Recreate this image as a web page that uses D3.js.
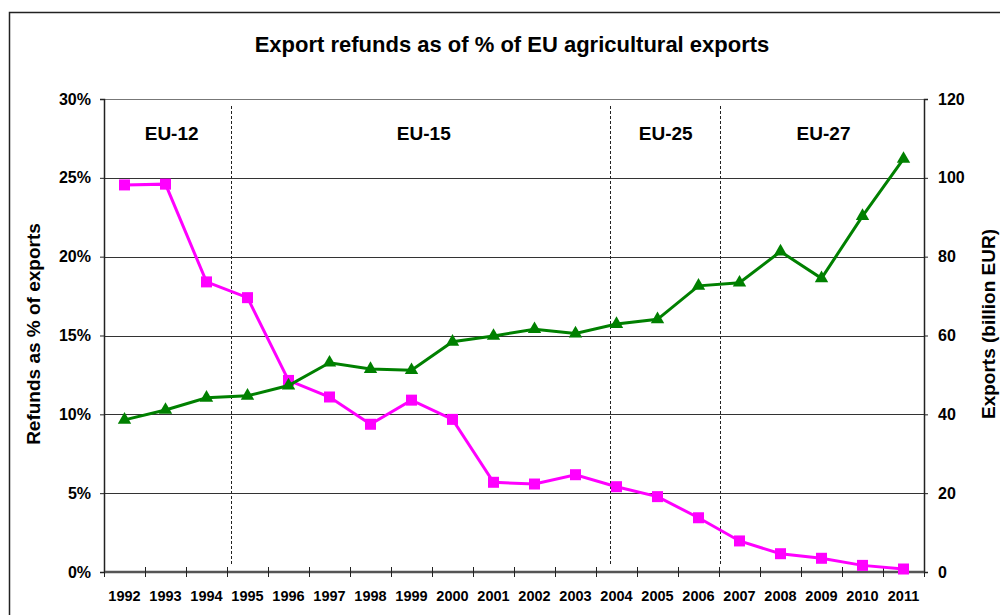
<!DOCTYPE html>
<html>
<head>
<meta charset="utf-8">
<script src="https://cdn.jsdelivr.net/npm/d3@7"></script>
<style>
  body { margin: 0; background: #fff; }
  svg text { font-family: "Liberation Sans", Arial, sans-serif; font-weight: bold; fill: #000; }
</style>
</head>
<body>
<div id="chart"></div>
<script>
const WIDTH = 1000;
const HEIGHT = 615;
const MARGINS = {left: 104, right: 76, top: 99, bottom: 43};

// data
const YEARS = ["1992", "1993", "1994", "1995", "1996", "1997", "1998", "1999", "2000", "2001",
               "2002", "2003", "2004", "2005", "2006", "2007", "2008", "2009", "2010", "2011"];
const REFUNDS_PCT = [24.55, 24.6, 18.4, 17.4, 12.15, 11.1, 9.37, 10.9, 9.68, 5.69,
                     5.58, 6.17, 5.41, 4.78, 3.44, 1.97, 1.16, 0.87, 0.42, 0.19];
const EXPORTS_BN = [38.6, 41.1, 44.2, 44.7, 47.3, 53.1, 51.5, 51.2, 58.4, 59.9,
                    61.6, 60.5, 62.9, 64.1, 72.6, 73.4, 81.3, 74.5, 90.3, 104.8];
const LEFT_TICKS = [0, 5, 10, 15, 20, 25, 30];
const RIGHT_TICKS = [0, 20, 40, 60, 80, 100, 120];
// enlargement periods: label, label centre and dashed dividers (in category units)
const PERIOD_LABELS = ["EU-12", "EU-15", "EU-25", "EU-27"];
const PERIOD_LABEL_POS = [1.65, 7.8, 13.7, 17.55];
const DIVIDERS = [3.09, 12.34, 15.02];

const VIS_WIDTH = WIDTH - MARGINS.left - MARGINS.right;
const BOTTOM = 572;

const svg = d3.select("#chart").append("svg")
  .attr("width", WIDTH)
  .attr("height", HEIGHT);

// outer frame (right and bottom edges fall outside the picture)
svg.append("rect")
  .attr("x", 9.5).attr("y", 12.5)
  .attr("width", 1000).attr("height", 640)
  .attr("fill", "none").attr("stroke", "#222").attr("stroke-width", 1.5);

const X_SCALE = d3.scaleBand().domain(YEARS).range([MARGINS.left, MARGINS.left + VIS_WIDTH]);
const X_LIN = d3.scaleLinear().domain([0, YEARS.length]).range([MARGINS.left, MARGINS.left + VIS_WIDTH]);
const Y_LEFT = d3.scaleLinear().domain([0, 30]).range([BOTTOM, MARGINS.top]);
const Y_RIGHT = d3.scaleLinear().domain([0, 120]).range([BOTTOM, MARGINS.top]);

// gridlines
svg.append("g").selectAll("line")
  .data(LEFT_TICKS.slice(1))
  .enter().append("line")
    .attr("x1", MARGINS.left).attr("x2", MARGINS.left + VIS_WIDTH)
    .attr("y1", d => Math.round(Y_LEFT(d)) + 0.5).attr("y2", d => Math.round(Y_LEFT(d)) + 0.5)
    .attr("stroke", d => d === 30 ? "#777" : "#333").attr("stroke-width", 1);

// dashed dividers
svg.append("g").selectAll("line")
  .data(DIVIDERS)
  .enter().append("line")
    .attr("x1", d => Math.round(X_LIN(d)) + 0.5).attr("x2", d => Math.round(X_LIN(d)) + 0.5)
    .attr("y1", 106).attr("y2", 564)
    .attr("stroke", "#222").attr("stroke-width", 1)
    .attr("stroke-dasharray", "3,2");

// period labels
svg.append("g").selectAll("text")
  .data(PERIOD_LABELS)
  .enter().append("text")
    .attr("x", (d, i) => X_LIN(PERIOD_LABEL_POS[i]))
    .attr("y", 140)
    .attr("text-anchor", "middle")
    .style("font-size", "19px")
    .text(d => d);

// left axis
const leftAxis = svg.append("g")
  .attr("transform", `translate(${MARGINS.left},0)`)
  .call(d3.axisLeft(Y_LEFT).tickValues(LEFT_TICKS).tickSize(4).tickPadding(9).tickFormat(d => d + "%"));
leftAxis.select(".domain").attr("stroke", "#222").attr("stroke-width", 1.5);
leftAxis.selectAll(".tick line").attr("stroke", "#222");
leftAxis.selectAll("text").style("font-size", "16px").style("font-family", "Liberation Sans, Arial").style("font-weight", "bold");

// right axis
const rightAxis = svg.append("g")
  .attr("transform", `translate(${MARGINS.left + VIS_WIDTH},0)`)
  .call(d3.axisRight(Y_RIGHT).tickValues(RIGHT_TICKS).tickSize(4).tickPadding(10));
rightAxis.select(".domain").attr("stroke", "#222").attr("stroke-width", 1.5);
rightAxis.selectAll(".tick line").attr("stroke", "#222");
rightAxis.selectAll("text").style("font-size", "16px").style("font-family", "Liberation Sans, Arial").style("font-weight", "bold");

// bottom axis: ticks cross the axis line at category boundaries
const bottom = svg.append("g").attr("transform", `translate(0,${BOTTOM})`);
bottom.append("line")
  .attr("x1", MARGINS.left).attr("x2", MARGINS.left + VIS_WIDTH)
  .attr("stroke", "#555").attr("stroke-width", 2.5);
bottom.selectAll(".bt")
  .data(d3.range(YEARS.length + 1))
  .enter().append("line")
    .attr("x1", d => Math.round(X_LIN(d)) + 0.5).attr("x2", d => Math.round(X_LIN(d)) + 0.5)
    .attr("y1", -5).attr("y2", 5)
    .attr("stroke", "#222");
bottom.selectAll(".yl")
  .data(YEARS)
  .enter().append("text")
    .attr("x", d => X_SCALE(d) + X_SCALE.bandwidth() / 2)
    .attr("y", 29)
    .attr("text-anchor", "middle")
    .style("font-size", "14.5px")
    .text(d => d);

// axis titles
svg.append("text")
  .attr("transform", "translate(40,334) rotate(-90)")
  .attr("text-anchor", "middle")
  .style("font-size", "19px")
  .text("Refunds as % of exports");
svg.append("text")
  .attr("transform", "translate(995,324) rotate(-90)")
  .attr("text-anchor", "middle")
  .style("font-size", "19px")
  .text("Exports (billion EUR)");

// title
svg.append("text")
  .attr("x", 512).attr("y", 52)
  .attr("text-anchor", "middle")
  .style("font-size", "22px")
  .text("Export refunds as of % of EU agricultural exports");

const cx = d => X_SCALE(d) + X_SCALE.bandwidth() / 2;

// refunds line (magenta, squares)
const refundsData = YEARS.map((y, i) => ({year: y, v: REFUNDS_PCT[i]}));
svg.append("path")
  .datum(refundsData)
  .attr("d", d3.line().x(d => cx(d.year)).y(d => Y_LEFT(d.v)))
  .attr("fill", "none").attr("stroke", "#ff00ff").attr("stroke-width", 3);
svg.append("g").selectAll("rect")
  .data(refundsData)
  .enter().append("rect")
    .attr("x", d => cx(d.year) - 5.5).attr("y", d => Y_LEFT(d.v) - 5.5)
    .attr("width", 11).attr("height", 11)
    .attr("fill", "#ff00ff");

// exports line (green, triangles)
const exportsData = YEARS.map((y, i) => ({year: y, v: EXPORTS_BN[i]}));
svg.append("path")
  .datum(exportsData)
  .attr("d", d3.line().x(d => cx(d.year)).y(d => Y_RIGHT(d.v)))
  .attr("fill", "none").attr("stroke", "#008000").attr("stroke-width", 3);
svg.append("g").selectAll("path")
  .data(exportsData)
  .enter().append("path")
    .attr("transform", d => `translate(${cx(d.year)},${Y_RIGHT(d.v)})`)
    .attr("d", d3.symbol().type(d3.symbolTriangle).size(78))
    .attr("fill", "#008000");
</script>
</body>
</html>
